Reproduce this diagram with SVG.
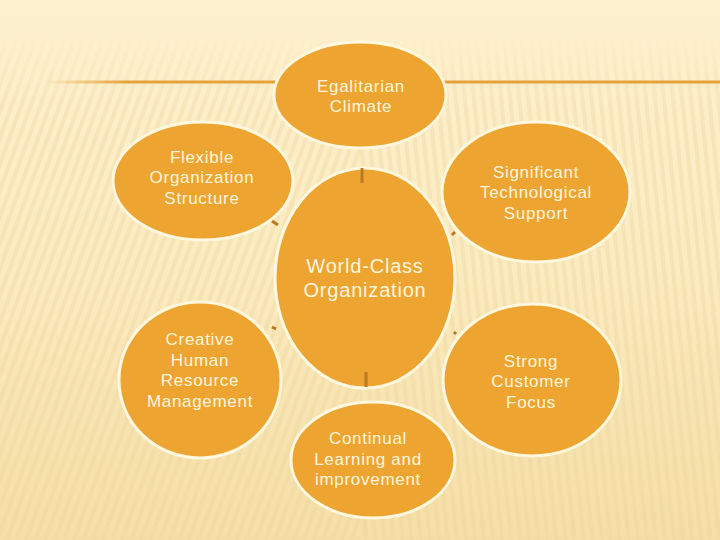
<svg xmlns="http://www.w3.org/2000/svg" width="720" height="540" viewBox="0 0 720 540">
<defs>
<linearGradient id="bg" x1="0" y1="0" x2="0" y2="1">
<stop offset="0" stop-color="#FDF1CE"/>
<stop offset="0.5" stop-color="#FBEBC0"/>
<stop offset="1" stop-color="#F5DEA6"/>
</linearGradient>
<linearGradient id="fade" x1="0" y1="0" x2="0" y2="1">
<stop offset="0" stop-color="#fff" stop-opacity="0"/>
<stop offset="0.06" stop-color="#fff" stop-opacity="0"/>
<stop offset="0.2" stop-color="#fff" stop-opacity="1"/>
<stop offset="1" stop-color="#fff" stop-opacity="1"/>
</linearGradient>
<mask id="m"><rect width="720" height="540" fill="url(#fade)"/></mask>
<pattern id="stripesL" width="9" height="9" patternUnits="userSpaceOnUse" patternTransform="rotate(20)">
<rect width="4" height="9" fill="#EED398" opacity="0.3"/>
</pattern>
<pattern id="stripesR" width="9" height="9" patternUnits="userSpaceOnUse" patternTransform="rotate(-6)">
<rect width="4" height="9" fill="#EED398" opacity="0.3"/>
</pattern>
<linearGradient id="lineG" x1="0" y1="0" x2="1" y2="0">
<stop offset="0" stop-color="#E6A23C" stop-opacity="0"/>
<stop offset="0.12" stop-color="#E6A23C" stop-opacity="1"/>
<stop offset="1" stop-color="#E6A23C"/>
</linearGradient>
<style>
.node ellipse{fill:#EEA431;stroke:#FFF7DE;stroke-width:3}
.node text{font-family:"Liberation Sans",Arial,sans-serif;font-size:17px;fill:#FFF6DC;text-anchor:middle;letter-spacing:0.7px}
#center text{font-size:20px;letter-spacing:0.8px}
.tick{stroke:#B97A22;stroke-width:3;stroke-linecap:butt}
</style>
</defs>
<rect width="720" height="540" fill="url(#bg)"/>
<g mask="url(#m)">
<rect x="0" y="0" width="360" height="540" fill="url(#stripesL)"/>
<rect x="360" y="0" width="360" height="540" fill="url(#stripesR)"/>
</g>
<rect x="45" y="80.5" width="675" height="3" fill="url(#lineG)"/>

<g id="center" class="node">
<ellipse cx="365" cy="278" rx="90" ry="110"/>
<text x="365" y="273">World-Class</text>
<text x="365" y="297">Organization</text>
</g>
<g id="egalitarian" class="node">
<ellipse cx="360" cy="95" rx="86" ry="53"/>
<text x="361" y="92">Egalitarian</text>
<text x="361" y="112">Climate</text>
</g>
<g id="flexible" class="node">
<ellipse cx="203" cy="181" rx="90" ry="59"/>
<text x="202" y="163">Flexible</text>
<text x="202" y="183">Organization</text>
<text x="202" y="204">Structure</text>
</g>
<g id="technological" class="node">
<ellipse cx="536" cy="192" rx="94" ry="70"/>
<text x="536" y="178">Significant</text>
<text x="536" y="198">Technological</text>
<text x="536" y="219">Support</text>
</g>
<g id="creative" class="node">
<ellipse cx="200" cy="380" rx="81" ry="78"/>
<text x="200" y="345">Creative</text>
<text x="200" y="366">Human</text>
<text x="200" y="386">Resource</text>
<text x="200" y="407">Management</text>
</g>
<g id="customer" class="node">
<ellipse cx="532" cy="380" rx="89" ry="76"/>
<text x="531" y="367">Strong</text>
<text x="531" y="387">Customer</text>
<text x="531" y="408">Focus</text>
</g>
<g id="learning" class="node">
<ellipse cx="373" cy="460" rx="82" ry="58"/>
<text x="368" y="444">Continual</text>
<text x="368" y="465">Learning and</text>
<text x="368" y="485">improvement</text>
</g>

<g id="connectors">
<line class="tick" x1="362" y1="168" x2="362" y2="183"/>
<line class="tick" x1="366" y1="372" x2="366" y2="387"/>
<line class="tick" x1="272" y1="221" x2="278" y2="225"/>
<line class="tick" x1="452" y1="235" x2="455" y2="232"/>
<line class="tick" x1="272" y1="327" x2="276" y2="329"/>
<line class="tick" x1="454" y1="334" x2="456" y2="332"/>
</g>
</svg>
